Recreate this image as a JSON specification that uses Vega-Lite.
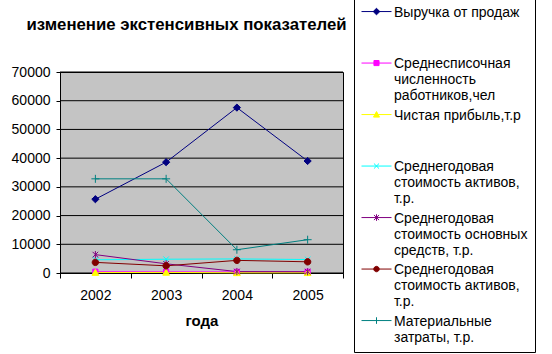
{
  "$schema": "https://vega.github.io/schema/vega-lite/v6.json",
  "width": 283,
  "height": 201,
  "autosize": {"type": "none"},
  "padding": {"left": 60, "top": 72, "right": 209, "bottom": 81},
  "background": "white",
  "config": {
    "font": "Liberation Sans",
    "view": {"fill": "#c4c4c4", "stroke": "black", "strokeWidth": 1}
  },
  "title": {
    "text": "изменение экстенсивных показателей",
    "font": "Liberation Sans",
    "fontSize": 16.8,
    "fontWeight": "bold",
    "color": "black",
    "anchor": "middle",
    "frame": "group",
    "dx": -15,
    "baseline": "alphabetic",
    "offset": -53
  },
  "data": {
    "values": [
      {"year": "2002", "series": "Выручка от продаж", "value": 25700},
      {"year": "2003", "series": "Выручка от продаж", "value": 38600},
      {"year": "2004", "series": "Выручка от продаж", "value": 57600},
      {"year": "2005", "series": "Выручка от продаж", "value": 39000},
      {"year": "2002", "series": "Среднесписочная численность работников,чел", "value": 450},
      {"year": "2003", "series": "Среднесписочная численность работников,чел", "value": 420},
      {"year": "2004", "series": "Среднесписочная численность работников,чел", "value": 380},
      {"year": "2005", "series": "Среднесписочная численность работников,чел", "value": 400},
      {"year": "2002", "series": "Чистая прибыль,т.р", "value": 150},
      {"year": "2003", "series": "Чистая прибыль,т.р", "value": 200},
      {"year": "2004", "series": "Чистая прибыль,т.р", "value": 60},
      {"year": "2005", "series": "Чистая прибыль,т.р", "value": 80},
      {"year": "2002", "series": "Среднегодовая стоимость активов, т.р.", "value": 4600},
      {"year": "2003", "series": "Среднегодовая стоимость активов, т.р.", "value": 4800},
      {"year": "2004", "series": "Среднегодовая стоимость активов, т.р.", "value": 4900},
      {"year": "2005", "series": "Среднегодовая стоимость активов, т.р.", "value": 4700},
      {"year": "2002", "series": "Среднегодовая стоимость основных средств, т.р.", "value": 6400},
      {"year": "2003", "series": "Среднегодовая стоимость основных средств, т.р.", "value": 3200},
      {"year": "2004", "series": "Среднегодовая стоимость основных средств, т.р.", "value": 500},
      {"year": "2005", "series": "Среднегодовая стоимость основных средств, т.р.", "value": 450},
      {"year": "2002", "series": "Среднегодовая стоимость активов, т.р.\u200b", "value": 3700},
      {"year": "2003", "series": "Среднегодовая стоимость активов, т.р.\u200b", "value": 2500},
      {"year": "2004", "series": "Среднегодовая стоимость активов, т.р.\u200b", "value": 4400},
      {"year": "2005", "series": "Среднегодовая стоимость активов, т.р.\u200b", "value": 3900},
      {"year": "2002", "series": "Материальные затраты, т.р.", "value": 32800},
      {"year": "2003", "series": "Материальные затраты, т.р.", "value": 32800},
      {"year": "2004", "series": "Материальные затраты, т.р.", "value": 8100},
      {"year": "2005", "series": "Материальные затраты, т.р.", "value": 11600}
    ]
  },
  "layer": [
    {
      "data": {"values": [
        {"grid": 0, "side": 0}, {"grid": 0, "side": 1},
        {"grid": 10000, "side": 0}, {"grid": 10000, "side": 1},
        {"grid": 20000, "side": 0}, {"grid": 20000, "side": 1},
        {"grid": 30000, "side": 0}, {"grid": 30000, "side": 1},
        {"grid": 40000, "side": 0}, {"grid": 40000, "side": 1},
        {"grid": 50000, "side": 0}, {"grid": 50000, "side": 1},
        {"grid": 60000, "side": 0}, {"grid": 60000, "side": 1},
        {"grid": 70000, "side": 0}, {"grid": 70000, "side": 1}
      ]},
      "mark": {"type": "line", "color": "black", "strokeWidth": 1},
      "encoding": {
        "x": {"field": "side", "type": "quantitative", "scale": {"domain": [0, 1], "nice": false, "zero": false}, "axis": null},
        "y": {
          "field": "grid",
          "type": "quantitative",
          "scale": {"domain": [0, 70000], "nice": false},
          "axis": {
            "title": null,
            "values": [0, 10000, 20000, 30000, 40000, 50000, 60000, 70000],
            "format": "d",
            "labelFont": "Liberation Sans",
            "labelFontSize": 14,
            "labelColor": "black",
            "labelPadding": 6,
            "domainColor": "black",
            "tickColor": "black",
            "tickSize": 4,
            "grid": false
          }
        },
        "detail": {"field": "grid", "type": "nominal"}
      }
    },
    {
      "mark": {"type": "line", "strokeWidth": 1},
      "encoding": {
        "x": {
          "field": "year",
          "type": "ordinal",
          "scale": {"type": "band", "paddingInner": 0, "paddingOuter": 0},
          "axis": {
            "title": "года",
            "titleFont": "Liberation Sans",
            "titleFontSize": 15,
            "titleFontWeight": "bold",
            "titleColor": "black",
            "titlePadding": 11,
            "labelFont": "Liberation Sans",
            "labelFontSize": 14,
            "labelColor": "black",
            "labelAngle": 0,
            "labelPadding": 10,
            "domainColor": "black",
            "tickColor": "black",
            "tickSize": 5,
            "tickBand": "extent",
            "grid": false
          }
        },
        "y": {
          "field": "value",
          "type": "quantitative",
          "scale": {"domain": [0, 70000], "nice": false},
          "axis": {
            "title": null,
            "values": [0, 10000, 20000, 30000, 40000, 50000, 60000, 70000],
            "format": "d",
            "labelFont": "Liberation Sans",
            "labelFontSize": 14,
            "labelColor": "black",
            "labelPadding": 6,
            "domainColor": "black",
            "tickColor": "black",
            "tickSize": 4,
            "grid": false
          }
        },
        "color": {
          "field": "series",
          "type": "nominal",
          "scale": {
            "domain": ["Выручка от продаж", "Среднесписочная численность работников,чел", "Чистая прибыль,т.р", "Среднегодовая стоимость активов, т.р.", "Среднегодовая стоимость основных средств, т.р.", "Среднегодовая стоимость активов, т.р.\u200b", "Материальные затраты, т.р."],
            "range": ["#000080", "#FF00FF", "#FFFF00", "#00FFFF", "#800080", "#800000", "#008080"]
          },
          "legend": null
        }
      }
    },
    {
      "transform": [{"filter": "datum.value < 0"}],
      "mark": {"type": "point", "filled": true, "size": 900, "strokeWidth": 1, "opacity": 1},
      "encoding": {
        "x": {"field": "year", "type": "ordinal", "scale": {"type": "band", "paddingInner": 0, "paddingOuter": 0}, "axis": null},
        "y": {
          "field": "value",
          "type": "quantitative",
          "scale": {"domain": [0, 70000], "nice": false},
          "axis": {
            "title": null,
            "values": [0, 10000, 20000, 30000, 40000, 50000, 60000, 70000],
            "format": "d",
            "labelFont": "Liberation Sans",
            "labelFontSize": 14,
            "labelColor": "black",
            "labelPadding": 6,
            "domainColor": "black",
            "tickColor": "black",
            "tickSize": 4,
            "grid": false
          }
        },
        "fill": {
          "field": "series",
          "type": "nominal",
          "scale": {
            "domain": ["Выручка от продаж", "Среднесписочная численность работников,чел", "Чистая прибыль,т.р", "Среднегодовая стоимость активов, т.р.", "Среднегодовая стоимость основных средств, т.р.", "Среднегодовая стоимость активов, т.р.\u200b", "Материальные затраты, т.р."],
            "range": ["#000080", "#FF00FF", "#FFFF00", "#00FFFF", "#800080", "#800000", "#008080"]
          },
          "legend": {
            "title": null, "orient": "none", "legendX": 294, "legendY": -78,
            "strokeColor": "black", "fillColor": "white", "padding": 7,
            "symbolSize": 900, "symbolStrokeWidth": 1, "labelOffset": 2,
            "labelFont": "Liberation Sans", "labelFontSize": 14, "labelColor": "black",
            "labelLimit": 400, "labelBaseline": "alphabetic", "gridAlign": "all", "rowPadding": 0.5,
            "labelExpr": "split(replace(datum.label, regexp('(Среднесписочная|численность|Среднегодовая|активов,|основных|Материальные) ', 'g'), '$1|'), '|')"
          }
        },
        "stroke": {
          "field": "series",
          "type": "nominal",
          "scale": {
            "domain": ["Выручка от продаж", "Среднесписочная численность работников,чел", "Чистая прибыль,т.р", "Среднегодовая стоимость активов, т.р.", "Среднегодовая стоимость основных средств, т.р.", "Среднегодовая стоимость активов, т.р.\u200b", "Материальные затраты, т.р."],
            "range": ["#000080", "#FF00FF", "#FFFF00", "#00FFFF", "#800080", "#800000", "#008080"]
          },
          "legend": {
            "title": null, "orient": "none", "legendX": 294, "legendY": -78,
            "strokeColor": "black", "fillColor": "white", "padding": 7,
            "symbolSize": 900, "symbolStrokeWidth": 1, "labelOffset": 2,
            "labelFont": "Liberation Sans", "labelFontSize": 14, "labelColor": "black",
            "labelLimit": 400, "labelBaseline": "alphabetic", "gridAlign": "all", "rowPadding": 0.5,
            "labelExpr": "split(replace(datum.label, regexp('(Среднесписочная|численность|Среднегодовая|активов,|основных|Материальные) ', 'g'), '$1|'), '|')"
          }
        },
        "shape": {
          "field": "series",
          "type": "nominal",
          "scale": {
            "domain": ["Выручка от продаж", "Среднесписочная численность работников,чел", "Чистая прибыль,т.р", "Среднегодовая стоимость активов, т.р.", "Среднегодовая стоимость основных средств, т.р.", "Среднегодовая стоимость активов, т.р.\u200b", "Материальные затраты, т.р."],
            "range": [
              "M-1,-0.33H1M0,-0.55L0.22,-0.33L0,-0.11L-0.22,-0.33Z",
              "M-1,-0.33H1M-0.17,-0.5H0.17V-0.16H-0.17Z",
              "M-1,-0.33H1M0,-0.53L0.2,-0.16H-0.2Z",
              "M-1,-0.33H1M-0.17,-0.5L0.17,-0.16M-0.17,-0.16L0.17,-0.5",
              "M-1,-0.33H1M-0.17,-0.5L0.17,-0.16M-0.17,-0.16L0.17,-0.5M0,-0.55V-0.11",
              "M-1,-0.33H1M-0.18,-0.33A0.18,0.18 0 1,0 0.18,-0.33A0.18,0.18 0 1,0 -0.18,-0.33Z",
              "M-1,-0.33H1M0,-0.55V-0.11"
            ]
          },
          "legend": {
            "title": null, "orient": "none", "legendX": 294, "legendY": -78,
            "strokeColor": "black", "fillColor": "white", "padding": 7,
            "symbolSize": 900, "symbolStrokeWidth": 1, "labelOffset": 2,
            "labelFont": "Liberation Sans", "labelFontSize": 14, "labelColor": "black",
            "labelLimit": 400, "labelBaseline": "alphabetic", "gridAlign": "all", "rowPadding": 0.5,
            "labelExpr": "split(replace(datum.label, regexp('(Среднесписочная|численность|Среднегодовая|активов,|основных|Материальные) ', 'g'), '$1|'), '|')"
          }
        }
      }
    },
    {
      "mark": {"type": "point", "filled": true, "size": 64, "strokeWidth": 1, "opacity": 1},
      "encoding": {
        "x": {"field": "year", "type": "ordinal", "scale": {"type": "band", "paddingInner": 0, "paddingOuter": 0}, "axis": null},
        "y": {
          "field": "value",
          "type": "quantitative",
          "scale": {"domain": [0, 70000], "nice": false},
          "axis": {
            "title": null,
            "values": [0, 10000, 20000, 30000, 40000, 50000, 60000, 70000],
            "format": "d",
            "labelFont": "Liberation Sans",
            "labelFontSize": 14,
            "labelColor": "black",
            "labelPadding": 6,
            "domainColor": "black",
            "tickColor": "black",
            "tickSize": 4,
            "grid": false
          }
        },
        "fill": {
          "field": "series",
          "type": "nominal",
          "scale": {
            "domain": ["Выручка от продаж", "Среднесписочная численность работников,чел", "Чистая прибыль,т.р", "Среднегодовая стоимость активов, т.р.", "Среднегодовая стоимость основных средств, т.р.", "Среднегодовая стоимость активов, т.р.\u200b", "Материальные затраты, т.р."],
            "range": ["#000080", "#FF00FF", "#FFFF00", "#00FFFF", "#800080", "#800000", "#008080"]
          },
          "legend": null
        },
        "stroke": {
          "field": "series",
          "type": "nominal",
          "scale": {
            "domain": ["Выручка от продаж", "Среднесписочная численность работников,чел", "Чистая прибыль,т.р", "Среднегодовая стоимость активов, т.р.", "Среднегодовая стоимость основных средств, т.р.", "Среднегодовая стоимость активов, т.р.\u200b", "Материальные затраты, т.р."],
            "range": ["#000080", "#FF00FF", "#FFFF00", "#00FFFF", "#800080", "#800000", "#008080"]
          },
          "legend": null
        },
        "shape": {
          "field": "series",
          "type": "nominal",
          "scale": {
            "domain": ["Выручка от продаж", "Среднесписочная численность работников,чел", "Чистая прибыль,т.р", "Среднегодовая стоимость активов, т.р.", "Среднегодовая стоимость основных средств, т.р.", "Среднегодовая стоимость активов, т.р.\u200b", "Материальные затраты, т.р."],
            "range": [
              "M0,-0.9L0.9,0L0,0.9L-0.9,0Z",
              "M-0.65,-0.65H0.65V0.65H-0.65Z",
              "M0,-0.8L0.85,0.7H-0.85Z",
              "M-0.7,-0.7L0.7,0.7M-0.7,0.7L0.7,-0.7",
              "M-0.7,-0.7L0.7,0.7M-0.7,0.7L0.7,-0.7M0,-0.9V0.9",
              "M-0.8,0A0.8,0.8 0 1,0 0.8,0A0.8,0.8 0 1,0 -0.8,0Z",
              "M-1,0H1M0,-1V1"
            ]
          },
          "legend": null
        }
      }
    }
  ],
  "resolve": {"scale": {"x": "independent", "fill": "independent", "stroke": "independent", "shape": "independent"}}
}
